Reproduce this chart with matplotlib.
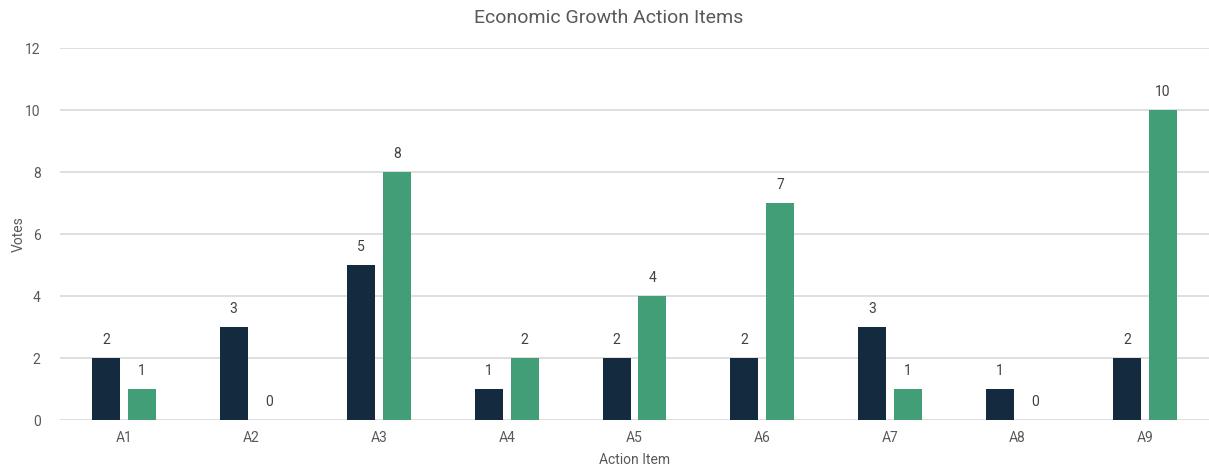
import matplotlib.pyplot as plt
import numpy as np

# data
items = ['A1', 'A2', 'A3', 'A4', 'A5', 'A6', 'A7', 'A8', 'A9']
votes_dark = [2, 3, 5, 1, 2, 2, 3, 1, 2]
votes_green = [1, 0, 8, 2, 4, 7, 1, 0, 10]

dark = '#142A3F'
green = '#419E77'
text_grey = '#595959'

plt.rcParams['font.family'] = ['Roboto', 'DejaVu Sans']

fig = plt.figure(figsize=(12.09, 4.66), dpi=100)
ax = fig.add_axes([60 / 1209, 1 - 420 / 466, 1 - 60 / 1209, (420 - 48) / 466])

x = np.arange(len(items))
w = 0.22
off = 0.14
b1 = ax.bar(x - off, votes_dark, w, color=dark, zorder=3)
b2 = ax.bar(x + off, votes_green, w, color=green, zorder=3)

for bars in (b1, b2):
    for rect in bars:
        h = rect.get_height()
        ax.annotate(f'{int(h)}', (rect.get_x() + rect.get_width() / 2, h),
                    xytext=(0, 8), textcoords='offset points',
                    ha='center', va='bottom', fontsize=10, color='#404040')

ax.set_xlim(-0.5, len(items) - 0.5)
ax.set_ylim(0, 12)
ax.set_yticks(range(0, 13, 2))
ax.set_xticks(x)
ax.set_xticklabels(items)
ax.grid(axis='y', color='#D9D9D9', linewidth=1.2, zorder=0)
for s in ax.spines.values():
    s.set_visible(False)
ax.tick_params(length=0, colors=text_grey, labelsize=10)
ax.tick_params(axis='y', pad=14)
ax.tick_params(axis='x', pad=8)

ax.set_ylabel('Votes', color=text_grey, fontsize=10)
ax.yaxis.set_label_coords(-34 / 1149, 0.5)
ax.set_xlabel('Action Item', color=text_grey, fontsize=10, labelpad=6)
fig.suptitle('Economic Growth Action Items', x=609 / 1209, y=0.98,
             va='top', color=text_grey, fontsize=14)

fig.savefig('out.png', dpi=100)
